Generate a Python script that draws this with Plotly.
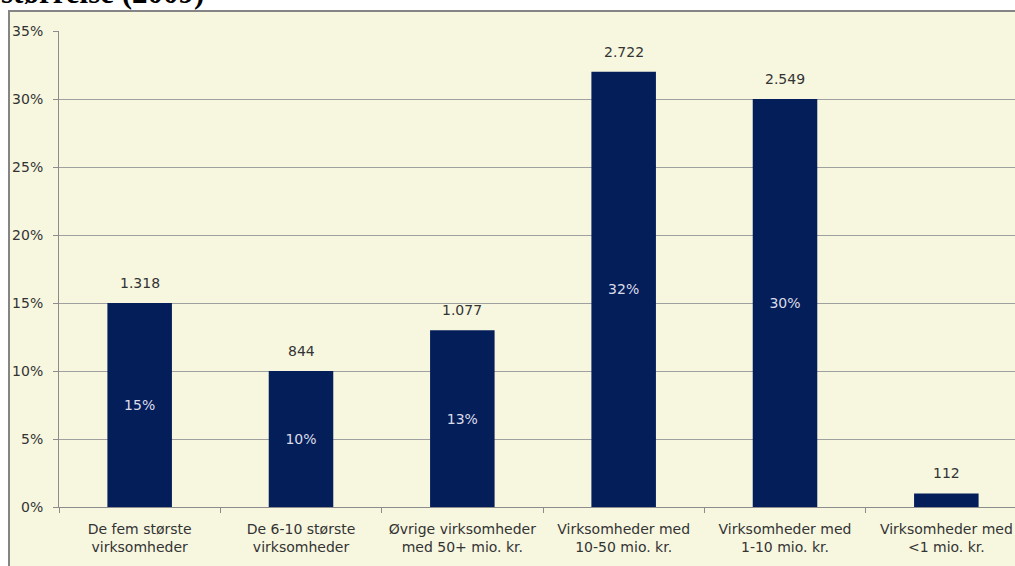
import plotly.graph_objects as go

categories = [
    "De fem største<br>virksomheder",
    "De 6-10 største<br>virksomheder",
    "Øvrige virksomheder<br>med 50+ mio. kr.",
    "Virksomheder med<br>10-50 mio. kr.",
    "Virksomheder med<br>1-10 mio. kr.",
    "Virksomheder med<br><1 mio. kr.",
]
shares = [15, 10, 13, 32, 30, 1]
counts = ["1.318", "844", "1.077", "2.722", "2.549", "112"]
inside_labels = ["15%", "10%", "13%", "32%", "30%", ""]
y_ticks = [0, 5, 10, 15, 20, 25, 30, 35]
title_text = "størrelse (2009)"

# figure fills the whole window (body margin removed in post_script)
W, H = 1015, 566
L, R, T, B = 59, 0, 31, 59
pw, ph = W - L - R, H - T - B

def px_x(p):
    return (p - L) / pw

def px_y(p):
    return 1 + (T - p) / ph

BAR = "#041E5A"
BG = "#F7F7E0"
TXT = "#333333"
FONT = "DejaVu Sans"

fig = go.Figure()
fig.add_trace(go.Bar(
    x=categories, y=shares, width=0.4,
    marker=dict(color=BAR, line=dict(width=0)),
    text=inside_labels, textposition="inside", insidetextanchor="middle",
    textfont=dict(family=FONT, size=14, color="#DCDCE8"),
    constraintext="none", hoverinfo="skip",
))

for c, v, n in zip(categories, shares, counts):
    fig.add_annotation(x=c, y=v, text=n, showarrow=False, yanchor="bottom",
                       yshift=10, font=dict(family=FONT, size=14, color=TXT))

fig.add_annotation(xref="paper", yref="paper", x=px_x(-1), y=px_y(12),
                   xanchor="left", yanchor="bottom", text="<b>" + title_text + "</b>",
                   showarrow=False, font=dict(family="Liberation Serif", size=31, color="black"))

fig.add_shape(type="rect", xref="paper", yref="paper", layer="below",
              x0=px_x(9), x1=1.1, y0=-0.3, y1=px_y(11),
              fillcolor=BG, line=dict(color="#858585", width=2))

fig.update_layout(
    width=W, height=H,
    margin=dict(l=L, r=R, t=T, b=B, pad=0),
    paper_bgcolor="white", plot_bgcolor="rgba(0,0,0,0)",
    showlegend=False,
    font=dict(family=FONT, size=14, color=TXT),
    bargap=0.6,
)
fig.update_xaxes(
    type="category", range=[-0.5, 5.5 - 12 / 161.3],
    tickson="boundaries", ticks="outside", ticklen=5, tickcolor="#8C8C8C",
    showline=True, linecolor="#8C8C8C", linewidth=1,
    showgrid=False, tickfont=dict(family=FONT, size=14, color=TXT),
    ticklabelstandoff=9,
)
fig.update_yaxes(
    range=[0, 35], tickvals=y_ticks, ticktext=[f"{t}%" for t in y_ticks],
    ticks="outside", ticklen=5, tickcolor="#8C8C8C",
    showline=True, linecolor="#8C8C8C", linewidth=1,
    showgrid=True, gridcolor="#A0A0A0", gridwidth=1, zeroline=False,
    tickfont=dict(family=FONT, size=14, color=TXT),
    ticklabelstandoff=7,
)

fig.write_html(
    "out.html",
    config={"displayModeBar": False},
    post_script="document.body.style.margin='0';document.body.style.overflow='hidden';",
)
